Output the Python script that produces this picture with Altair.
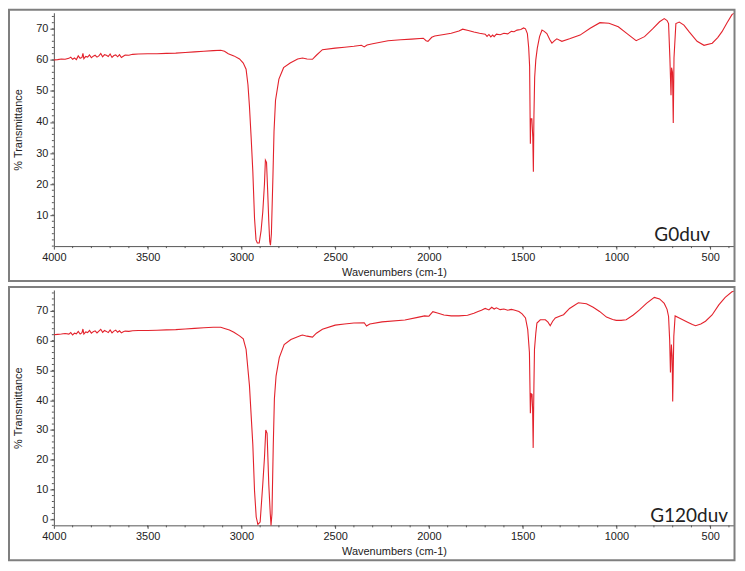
import altair as alt
import pandas as pd

# ---------------- data ----------------
wn_top = [4000, 3980, 3960, 3940, 3920, 3910, 3900, 3890, 3880, 3870, 3860, 3850, 3845, 3840, 3830,
          3820, 3810, 3800, 3790, 3780, 3770, 3760, 3750, 3740, 3730, 3720, 3710, 3700, 3690, 3680,
          3670, 3660, 3650, 3640, 3630, 3620, 3600, 3580, 3550, 3500, 3450, 3400, 3350, 3300, 3250,
          3200, 3150, 3110, 3090, 3070, 3040, 3010, 2990, 2975, 2965, 2957, 2948, 2939, 2930, 2922,
          2915, 2905, 2895, 2886, 2877, 2872, 2866, 2860, 2854, 2849, 2845, 2840, 2832, 2826, 2818,
          2800, 2775, 2740, 2700, 2674, 2650, 2621, 2600, 2568, 2500, 2450, 2400, 2360, 2345, 2330,
          2300, 2218, 2150, 2093, 2030, 2015, 2005, 1985, 1969, 1920, 1881, 1840, 1820, 1790, 1760,
          1730, 1700, 1690, 1680, 1670, 1660, 1652, 1640, 1620, 1600, 1580, 1560, 1546, 1530, 1510,
          1495, 1485, 1475, 1468, 1463, 1459, 1457, 1451, 1446, 1443, 1440, 1436, 1430, 1422, 1410,
          1397, 1385, 1371, 1355, 1344, 1330, 1318, 1305, 1291, 1250, 1194, 1140, 1088, 1040, 990,
          940, 895, 850, 807, 770, 745, 730, 722, 715, 709, 706, 701, 697, 693, 683,
          665, 640, 613, 570, 533, 489, 460, 437, 410, 384, 374]
t_top = [60.0, 60.1, 60.3, 60.2, 60.5, 60.9, 60.2, 60.6, 60.1, 61.3, 60.5, 60.8, 62.1, 60.4, 61.1,
         60.9, 61.6, 60.7, 61.2, 61.5, 60.9, 61.3, 62.1, 61.0, 61.7, 61.5, 61.1, 61.9, 60.8, 61.4,
         61.6, 61.0, 61.7, 60.8, 61.2, 61.6, 61.5, 61.8, 61.9, 62.0, 62.0, 62.1, 62.2, 62.4, 62.6,
         62.8, 63.0, 63.1, 62.8, 62.0, 61.3, 60.3, 59.0, 57.0, 52.0, 45.0, 35.0, 24.0, 9.0, 2.0,
         1.0, 1.0, 5.0, 11.0, 20.0, 27.7, 27.0, 18.0, 8.0, 1.5, 0.3, 4.0, 22.0, 37.0, 47.0,
         53.8, 57.5, 59.0, 60.3, 60.6, 60.3, 60.2, 61.5, 63.3, 63.8, 64.1, 64.4, 64.7, 64.2, 64.8,
         65.2, 66.2, 66.5, 66.7, 67.0, 66.2, 66.0, 67.3, 67.7, 68.2, 68.6, 69.3, 69.9, 69.5, 69.0,
         68.6, 68.3, 67.6, 68.2, 67.4, 68.0, 67.5, 68.3, 68.1, 68.6, 68.4, 69.2, 69.1, 69.6, 69.8,
         70.3, 70.0, 68.5, 64.0, 58.0, 33.0, 41.0, 41.0, 35.0, 24.0, 42.0, 54.4, 60.0, 63.8, 67.5,
         69.6, 69.2, 68.5, 66.5, 65.4, 66.2, 66.8, 66.4, 66.0, 66.8, 68.0, 70.2, 72.0, 71.8, 70.7,
         68.3, 66.2, 67.5, 70.0, 72.3, 73.3, 72.7, 71.7, 60.7, 48.6, 57.5, 56.0, 39.7, 60.7, 71.7,
         72.2, 71.2, 69.1, 66.0, 64.7, 65.4, 67.2, 69.1, 72.0, 74.6, 75.0]

wn_bot = [4000, 3980, 3960, 3940, 3920, 3910, 3900, 3890, 3880, 3870, 3860, 3850, 3845, 3840, 3830,
          3820, 3810, 3800, 3790, 3780, 3770, 3760, 3750, 3740, 3730, 3720, 3710, 3700, 3690, 3680,
          3670, 3660, 3650, 3640, 3630, 3620, 3600, 3580, 3550, 3500, 3450, 3400, 3350, 3300, 3250,
          3200, 3150, 3110, 3090, 3064, 3040, 3010, 2990, 2975, 2957, 2939, 2930, 2921, 2912, 2900,
          2886, 2877, 2870, 2863, 2854, 2846, 2842, 2837, 2830, 2824, 2815, 2798, 2772, 2736, 2683,
          2674, 2650, 2621, 2600, 2568, 2500, 2450, 2400, 2345, 2333, 2315, 2250, 2128, 2060, 2023,
          2000, 1979, 1950, 1920, 1881, 1840, 1794, 1760, 1741, 1720, 1700, 1680, 1665, 1652, 1640,
          1620, 1600, 1580, 1560, 1546, 1520, 1503, 1485, 1473, 1464, 1459, 1455, 1450, 1447, 1444,
          1440, 1437, 1430, 1424, 1406, 1379, 1365, 1353, 1340, 1326, 1300, 1282, 1250, 1203, 1160,
          1124, 1090, 1053, 1020, 1001, 975, 948, 910, 877, 840, 798, 770, 745, 730, 722,
          716, 712, 707, 703, 700, 694, 687, 665, 620, 595, 578, 550, 525, 490, 454,
          420, 384, 374]
t_bot = [62.0, 62.1, 62.2, 62.4, 62.2, 62.7, 61.9, 62.5, 62.3, 63.1, 62.2, 62.7, 63.9, 62.2, 62.9,
         62.7, 63.4, 62.5, 63.0, 63.3, 62.6, 63.2, 63.8, 62.8, 63.4, 63.1, 62.7, 63.6, 62.6, 63.2,
         63.5, 62.8, 63.3, 62.6, 63.0, 63.2, 63.1, 63.3, 63.4, 63.4, 63.5, 63.6, 63.7, 63.9, 64.1,
         64.3, 64.5, 64.5, 64.1, 63.6, 62.8, 61.6, 60.6, 57.1, 44.9, 25.0, 9.6, 0.8, -1.7, -0.9,
         11.8, 20.7, 30.0, 28.9, 11.8, 1.9, -2.0, 1.9, 25.0, 40.5, 48.2, 54.3, 58.7, 60.4, 61.7,
         61.9, 61.5, 61.2, 62.5, 63.8, 65.2, 65.6, 65.9, 66.0, 64.9, 65.6, 66.3, 66.9, 67.8, 68.3,
         68.2, 69.7, 69.2, 68.6, 68.3, 68.3, 68.5, 69.2, 69.7, 70.2, 70.8, 70.3, 71.2, 70.6, 71.0,
         70.4, 70.6, 70.2, 70.5, 70.3, 69.8, 69.0, 67.6, 63.7, 56.0, 35.6, 42.2, 42.0, 37.0, 24.0,
         45.0, 57.1, 62.5, 65.9, 67.0, 67.0, 66.2, 65.0, 66.5, 67.6, 68.3, 68.7, 70.8, 72.7, 72.4,
         71.2, 69.8, 67.9, 67.1, 66.8, 66.8, 67.0, 68.6, 70.3, 72.5, 74.5, 74.0, 72.5, 70.5, 68.1,
         60.0, 49.3, 58.7, 55.0, 39.6, 61.5, 68.3, 67.6, 66.2, 65.4, 65.0, 65.6, 66.5, 68.6, 72.0,
         74.5, 76.4, 76.6]

x_ticks = [4000, 3500, 3000, 2500, 2000, 1500, 1000, 500]
y_ticks_top = [10, 20, 30, 40, 50, 60, 70]
y_ticks_bot = [0, 10, 20, 30, 40, 50, 60, 70]
x_minor = list(range(3900, 399, -100))
y_minor_top = list(range(0, 76, 2))
y_minor_bot = list(range(-2, 77, 2))

RED = "#e3222c"
AX = "#555555"
FRAME = "#7f7f7f"
PW = 682


def panel(wn, t, ydom, yticks, yminor, label, ph, lx, ly):
    xs = alt.Scale(domain=[373, 4000], reverse=True, nice=False, zero=False)
    ys = alt.Scale(domain=ydom, nice=False, zero=False)
    xax = alt.Axis(values=x_ticks, title="Wavenumbers (cm-1)", format="d",
                   labelPadding=2, titlePadding=4, tickSize=3, labelFlush=False)
    yax = alt.Axis(values=yticks, title="% Transmittance", format="d",
                   labelPadding=2, titlePadding=12, tickSize=4)

    def X():
        return alt.X("wn:Q", scale=xs, axis=xax, title="Wavenumbers (cm-1)")

    def Y():
        return alt.Y("T:Q", scale=ys, axis=yax, title="% Transmittance")

    line = alt.Chart(pd.DataFrame({"wn": wn, "T": t})).mark_line(
        color=RED, strokeWidth=1.1
    ).encode(x=X(), y=Y())
    xm = alt.Chart(pd.DataFrame({"wn": x_minor})).mark_rule(color=AX, strokeWidth=1).encode(
        x=X(), y=alt.value(ph), y2=alt.value(ph + 2))
    ym = alt.Chart(pd.DataFrame({"T": yminor})).mark_rule(color=AX, strokeWidth=1).encode(
        y=Y(), x=alt.value(-2), x2=alt.value(0))
    frame = alt.Chart(pd.DataFrame({"a": [0]})).mark_rect(
        fill="transparent", stroke=FRAME, strokeWidth=2
    ).encode(x=alt.value(-45), x2=alt.value(PW + 0.5), y=alt.value(-3), y2=alt.value(ph + 35))
    txt = alt.Chart(pd.DataFrame({"label": [label]})).mark_text(
        align="right", baseline="alphabetic", font="Lato", fontSize=19, color="#222222"
    ).encode(x=alt.value(lx), y=alt.value(ly), text="label:N")
    return alt.layer(line, xm, ym, frame, txt).properties(width=PW, height=ph)


top = panel(wn_top, t_top, [0, 75.2], y_ticks_top, y_minor_top, "G0duv", 234, 658, 229)
bot = panel(wn_bot, t_bot, [-2, 77], y_ticks_bot, y_minor_bot, "G120duv", 236, 676, 233)

chart = alt.vconcat(top, bot, spacing=4).properties(padding=0).configure_view(
    strokeWidth=0
).configure_axis(
    labelFont="Liberation Sans", titleFont="Liberation Sans", labelFontSize=11, titleFontSize=11,
    titleFontWeight="normal", domainColor=AX, tickColor=AX, labelColor="#222222",
    titleColor="#222222", grid=False
)

chart.save("out.html", embed_options={"renderer": "svg", "actions": False})
